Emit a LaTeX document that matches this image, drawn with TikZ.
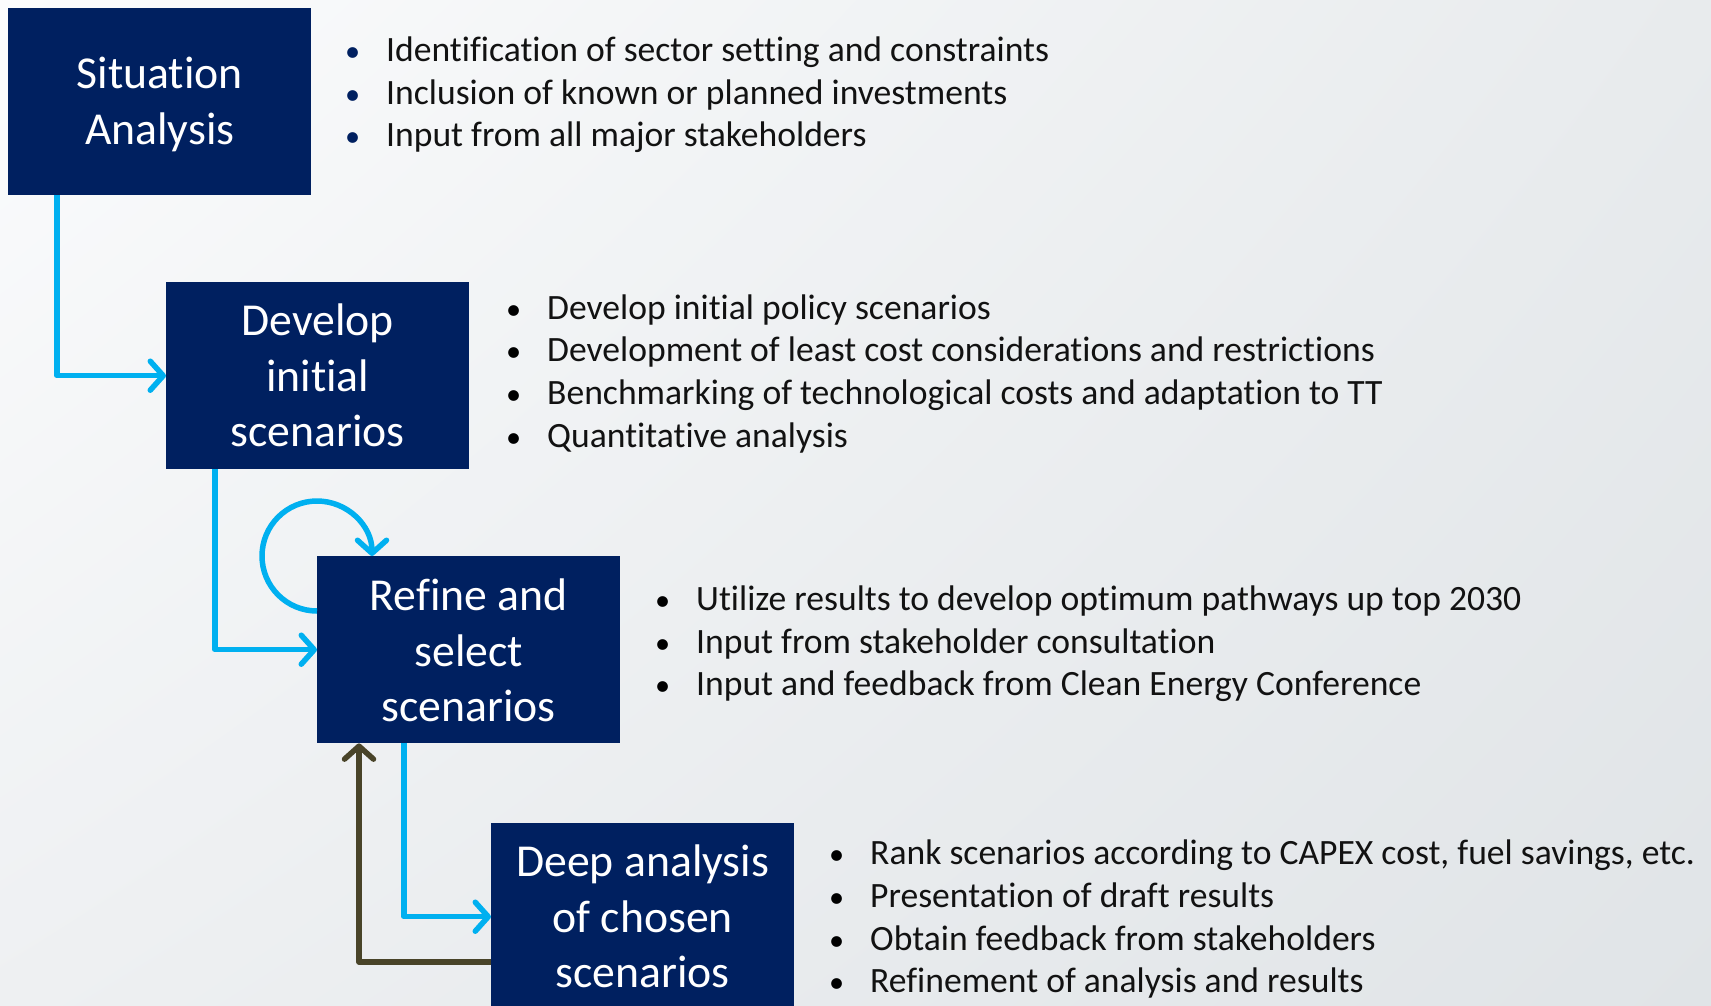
\documentclass[tikz,border=0pt]{standalone}
\usepackage{fontspec}
\setmainfont{Carlito}[Ligatures={NoCommon}]
\usetikzlibrary{arrows.meta,shadings}

\definecolor{navy}{RGB}{0,32,96}
\definecolor{flowcyan}{RGB}{0,176,240}
\definecolor{backolive}{RGB}{73,68,41}
\definecolor{bodytext}{RGB}{18,18,18}
\definecolor{bgA}{HTML}{FBFCFD}
\definecolor{bgB}{HTML}{E8EBED}
\definecolor{bgC}{HTML}{EEF0F2}
\definecolor{bgD}{HTML}{E0E4E7}

\tikzset{
  stepbox/.style={rectangle, fill=navy, anchor=north west,
    minimum width=303pt, minimum height=187pt, inner sep=0pt},
  steplabel/.style={text=white, inner sep=0pt, align=center,
    font=\fontsize{45.7}{55.5}\selectfont},
  bulletline/.style={anchor=base west, inner sep=0pt, text=bodytext,
    font=\fontsize{35.6}{42.6}\selectfont},
  tip/.style={-{Straight Barb[length=13pt,width=29pt,line cap=round,line join=round]}},
  flow/.style={draw=flowcyan, line width=5.5pt, line join=round, tip},
  feedback/.style={draw=backolive, line width=5.5pt, line join=round, tip},
}
\newcommand{\bul}[1]{\llap{\textcolor{#1}{\scalebox{0.85}{\textbullet}}\hspace{26pt}}}

\begin{document}
\begin{tikzpicture}[x=1pt,y=-1pt]
  % page area with soft background gradient
  \useasboundingbox (0,0) rectangle (1711,1006);
  \shade[upper left=bgA, upper right=bgB, lower left=bgC, lower right=bgD]
    (0,0) rectangle (1711,1006);

  % process steps
  \node[stepbox] (box1) at (8,8)     {};
  \node[stepbox] (box2) at (166,282) {};
  \node[stepbox] (box3) at (317,556) {};
  \node[stepbox] (box4) at (491,823) {};
  \node[steplabel] (lbl1) at ([yshift=-3pt]box1.center) {Situation\\Analysis};
  \node[steplabel] (lbl2) at (box2.center) {Develop\\initial\\scenarios};
  \node[steplabel] (lbl3) at ([yshift=-1pt]box3.center) {Refine and\\select\\scenarios};
  \node[steplabel] (lbl4) at (box4.center) {Deep analysis\\of chosen\\scenarios};

  % bullet lists beside each step
  \foreach \t [count=\i] in {Identification of sector setting and constraints,
      Inclusion of known or planned investments,
      Input from all major stakeholders}
    \node[bulletline] (g1-\i) at (386,{61.7+42.5*(\i-1)}) {\bul{navy}\t};

  \foreach \t [count=\i] in {Develop initial policy scenarios,
      Development of least cost considerations and restrictions,
      Benchmarking of technological costs and adaptation to TT,
      Quantitative analysis}
    \node[bulletline] (g2-\i) at (547,{319.3+42.6*(\i-1)}) {\bul{black}\t};

  \foreach \t [count=\i] in {Utilize results to develop optimum pathways up top 2030,
      Input from stakeholder consultation,
      Input and feedback from Clean Energy Conference}
    \node[bulletline] (g3-\i) at (696,{610.5+42.6*(\i-1)}) {\bul{black}\t};

  \foreach \t [count=\i] in {{Rank scenarios according to CAPEX cost, fuel savings, etc.},
      Presentation of draft results,
      Obtain feedback from stakeholders,
      Refinement of analysis and results}
    \node[bulletline] (g4-\i) at (870,{864.8+42.6*(\i-1)}) {\bul{black}\t};

  % connectors between steps
  \draw[flow] ([xshift=49pt]box1.south west) |- (box2.west);
  \draw[flow] ([xshift=49pt]box2.south west) |- (box3.west);
  \draw[flow] ([xshift=87pt]box3.south west) |- (box4.west);
  \draw[feedback] ([yshift=-139pt]box4.north west) -| ([xshift=42pt]box3.south west);

  % iteration loop on the refine step
  \draw[flow] ([yshift=-55pt]box3.north west)
    arc[start angle=-90, end angle=-360, radius=55pt];
\end{tikzpicture}
\end{document}
